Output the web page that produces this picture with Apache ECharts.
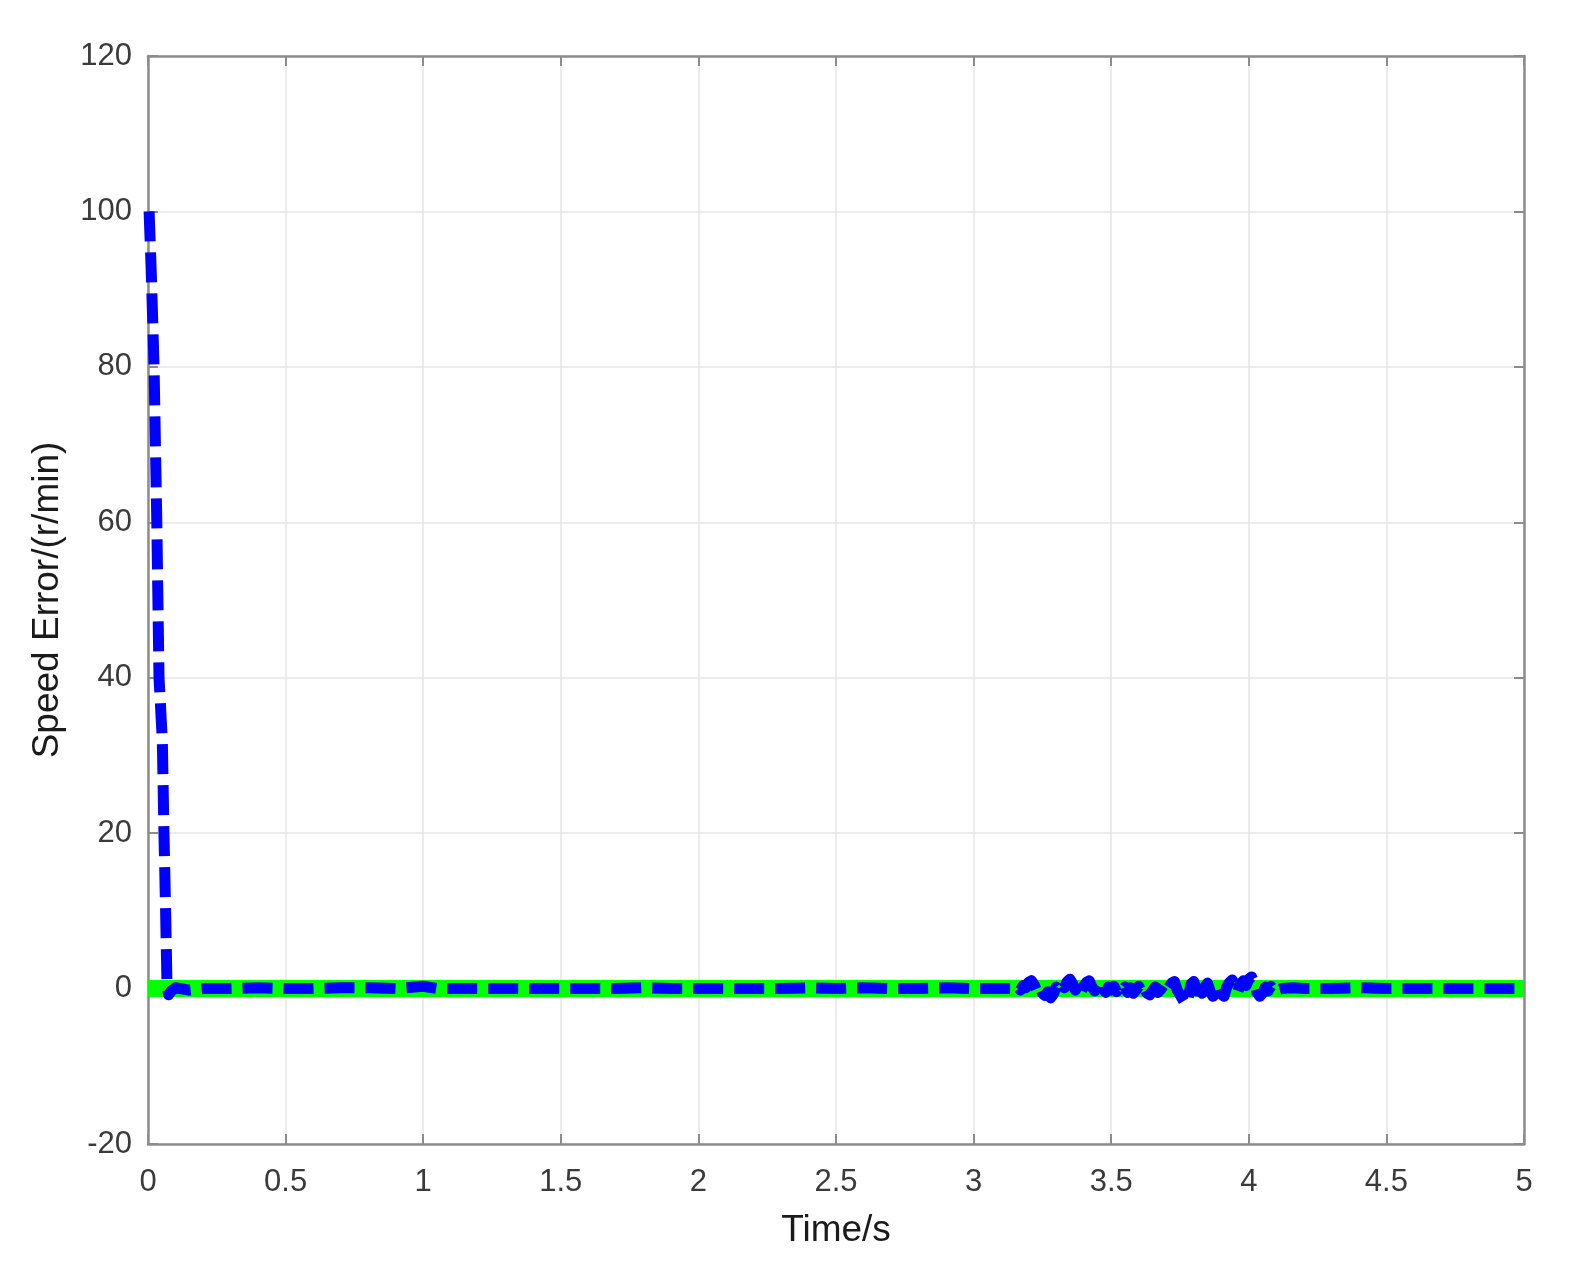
<!DOCTYPE html>
<html>
<head>
<meta charset="utf-8">
<script src="https://cdn.jsdelivr.net/npm/echarts@6/dist/echarts.min.js"></script>
<style>
html,body{margin:0;padding:0;background:#fff;}
#chart{width:1571px;height:1270px;}
</style>
</head>
<body>
<div id="chart"></div>
<script>
// Time (s) samples of the blue speed-error trace
var timeValues = [
  0.004, 0.012, 0.022, 0.032, 0.040, 0.052, 0.058, 0.064, 0.069, 0.075, 0.085, 0.10,
  0.15, 0.20, 0.30, 0.40, 0.50, 0.60, 0.70, 0.80, 0.90, 1.00, 1.05, 1.10, 1.20, 1.30,
  1.40, 1.50, 1.60, 1.70, 1.80, 1.90, 2.00, 2.10, 2.20, 2.30, 2.40, 2.50, 2.60, 2.70,
  2.80, 2.90, 3.00, 3.10,
  3.15, 3.16, 3.17, 3.18, 3.19, 3.20, 3.21, 3.22, 3.23, 3.24,
  3.25, 3.26, 3.27, 3.28, 3.29, 3.30, 3.31, 3.32, 3.33, 3.34,
  3.35, 3.36, 3.37, 3.38, 3.39, 3.40, 3.41, 3.42, 3.43, 3.44,
  3.45, 3.46, 3.47, 3.48, 3.49, 3.50, 3.51, 3.52, 3.53, 3.54,
  3.55, 3.56, 3.57, 3.58, 3.59, 3.60, 3.61, 3.62, 3.63, 3.64,
  3.65, 3.66, 3.67, 3.68, 3.69, 3.70, 3.71, 3.72, 3.73, 3.74,
  3.75, 3.76, 3.77, 3.78, 3.79, 3.80, 3.81, 3.82, 3.83, 3.84,
  3.85, 3.86, 3.87, 3.88, 3.89, 3.90, 3.91, 3.92, 3.93, 3.94,
  3.95, 3.96, 3.97, 3.98, 3.99, 4.00, 4.01, 4.02, 4.03, 4.04,
  4.05, 4.06, 4.07, 4.08, 4.09, 4.10, 4.11, 4.12,
  4.16, 4.20, 4.30, 4.40, 4.50, 4.60, 4.70, 4.80, 4.90, 5.00
];
// Speed error (r/min) of the blue trace
var speedError = [
  100, 92, 80, 60, 40, 32, 20, 10, 0.5, -0.8, -0.3, 0.1,
  -0.2, 0, 0, 0.1, 0, 0, 0.1, 0.1, 0, 0.3, 0, 0, 0, 0,
  0, 0, 0, 0, 0.1, 0, 0, 0, 0, 0, 0.1, 0, 0.1, 0,
  0, 0.1, 0, 0,
  0, 0.3, -0.2, 0.4, 0.1, 0.8, 1.0, 0.5, -0.3, 0.2,
  -0.6, -0.9, -0.4, -1.2, -0.7, 0.2, -0.3, 0.4, 0.1, 0.9,
  1.2, 0.6, -0.2, 0.5, -0.4, 0.3, 0.8, 1.0, 0.2, -0.3,
  0.6, 0.9, 0.1, -0.5, 0.2, -0.2, 0.3, -0.4, 0.1, -0.3,
  0.2, -0.5, 0.1, -0.6, -0.2, 0.3, -0.4, 0.1, -0.6, -0.8,
  -0.3, 0.2, -0.5, -0.1, 0.4, -0.3, 0.2, 0.7, 0.9, -0.2,
  -0.8, -1.4, -2.0, -1.2, 0.6, 0.9, -0.3, 0.4, -0.6, 0.2,
  0.7, -0.4, -1.0, -0.5, 0.3, -0.7, -1.0, 0.2, 0.8, 1.1,
  0.3, -0.4, 0.6, 1.0, 0.4, 1.2, 1.5, 0.8, -0.5, -1.0,
  -0.6, 0.2, -0.3, 0.3, -0.2, 0.1, -0.1, 0,
  0.1, 0, 0, 0.1, 0, 0, 0, 0, 0, 0
];
// Green reference trace (zero error)
var refTime = [0, 5];
var refValues = [0, 0];

var xTicks = { min: 0, max: 5, interval: 0.5 };
var yTicks = { min: -20, max: 120, interval: 20 };

function pairs(xs, ys) {
  var out = [];
  for (var i = 0; i < xs.length; i++) out.push([xs[i], ys[i]]);
  return out;
}

var frameColor = '#8c8c8c';
var labelColor = '#3a3a3a';
var font = 'Liberation Sans, Arial, Helvetica, sans-serif';

var chart = echarts.init(document.getElementById('chart'), null, { renderer: 'canvas' });
chart.setOption({
  backgroundColor: '#ffffff',
  animation: false,
  grid: { left: 148, right: 47, top: 56, bottom: 126, show: false },
  xAxis: [{
    type: 'value', min: xTicks.min, max: xTicks.max, interval: xTicks.interval,
    name: 'Time/s', nameLocation: 'middle', nameGap: 68,
    nameTextStyle: { fontFamily: font, fontSize: 37, color: '#1a1a1a' },
    axisLine: { show: true, onZero: false, lineStyle: { color: frameColor, width: 2.5 } },
    axisTick: { show: true, inside: true, length: 10, lineStyle: { color: frameColor, width: 2 } },
    axisLabel: { fontFamily: font, fontSize: 31, color: labelColor, margin: 23 },
    splitLine: { show: true, lineStyle: { color: '#e6e6e6', width: 1.5 } }
  }, {
    type: 'value', position: 'top', min: xTicks.min, max: xTicks.max, interval: xTicks.interval,
    axisLine: { show: true, onZero: false, lineStyle: { color: frameColor, width: 2.5 } },
    axisTick: { show: true, inside: true, length: 10, lineStyle: { color: frameColor, width: 2 } },
    axisLabel: { show: false }, splitLine: { show: false }
  }],
  yAxis: [{
    type: 'value', min: yTicks.min, max: yTicks.max, interval: yTicks.interval,
    name: 'Speed Error/(r/min)', nameLocation: 'middle', nameGap: 82,
    nameTextStyle: { fontFamily: font, fontSize: 37, color: '#1a1a1a' },
    axisLine: { show: true, onZero: false, lineStyle: { color: frameColor, width: 2.5 } },
    axisTick: { show: true, inside: true, length: 10, lineStyle: { color: frameColor, width: 2 } },
    axisLabel: { fontFamily: font, fontSize: 31, color: labelColor, margin: 16 },
    splitLine: { show: true, lineStyle: { color: '#e6e6e6', width: 1.5 } }
  }, {
    type: 'value', position: 'right', min: yTicks.min, max: yTicks.max, interval: yTicks.interval,
    axisLine: { show: true, onZero: false, lineStyle: { color: frameColor, width: 2.5 } },
    axisTick: { show: true, inside: true, length: 10, lineStyle: { color: frameColor, width: 2 } },
    axisLabel: { show: false }, splitLine: { show: false }
  }],
  series: [{
    name: 'reference', type: 'line', xAxisIndex: 0, yAxisIndex: 0,
    data: pairs(refTime, refValues), showSymbol: false, symbol: 'none',
    lineStyle: { color: '#00ff00', width: 17 }, z: 2
  }, {
    name: 'speed error', type: 'line', xAxisIndex: 0, yAxisIndex: 0,
    data: pairs(timeValues, speedError), showSymbol: false, symbol: 'none',
    lineStyle: { color: '#0000ff', width: 11, type: [30, 11], cap: 'butt', join: 'round' }, z: 3
  }]
});
</script>
</body>
</html>
